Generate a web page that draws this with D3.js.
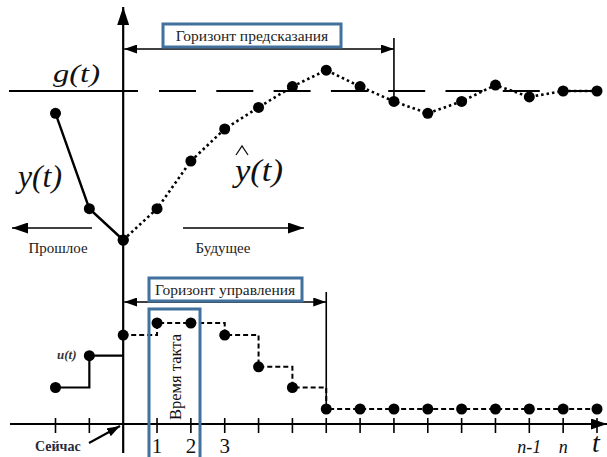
<!DOCTYPE html>
<html>
<head>
<meta charset="utf-8">
<script src="https://cdn.jsdelivr.net/npm/d3@7"></script>
<style>
  body { margin: 0; background: #fff; }
</style>
</head>
<body>
<div id="chart"></div>
<script>
// данные
const ticks = d3.range(-2, 15);                 // такты k = -2 .. 14
const pastY = [0.85, 0.21, 0];                   // y(t), k = -2, -1, 0
const predY = [0, 0.21, 0.53, 0.745, 0.89, 1.03, 1.14, 1.03, 0.93, 0.85, 0.93, 1.04, 0.96, 1.0, 1.0]; // k = 0..14
const setpoint = 1.0;                            // g(t)
const pastU = [0.25, 0.62, 0.62];                // u(t), k = -2, -1, 0
const futureU = [0.86, 1, 1, 0.86, 0.49, 0.25, 0, 0, 0, 0, 0, 0, 0, 0, 0]; // k = 0..14
const tickLabels = [
  { k: 1, t: '1' }, { k: 2, t: '2' }, { k: 3, t: '3' },
  { k: 12, t: 'n-1', it: true }, { k: 13, t: 'n', it: true }
];
const predHorizon = 8;
const ctrlHorizon = 6;

const W = 607, H = 457;
const blue = '#41719c';
const serif = '"Liberation Serif", "DejaVu Serif", "Times New Roman", serif';

const svg = d3.select('#chart').append('svg')
  .attr('width', W).attr('height', H)
  .attr('font-family', serif);

// стрелки
const defs = svg.append('defs');
function marker(id, len, wid) {
  defs.append('marker')
    .attr('id', id)
    .attr('viewBox', `0 0 ${len} ${wid}`)
    .attr('refX', len).attr('refY', wid / 2)
    .attr('markerUnits', 'userSpaceOnUse')
    .attr('markerWidth', len).attr('markerHeight', wid)
    .attr('orient', 'auto-start-reverse')
    .append('path')
    .attr('d', `M0,0 L${len},${wid / 2} L0,${wid} Z`)
    .attr('fill', '#000');
}
marker('big', 18, 12);
marker('mid', 16, 11);
marker('small', 13, 9);

// шкалы
const x = d3.scaleLinear().domain([-2, 14]).range([55.5, 597]);
const yTop = d3.scaleLinear().domain([0, 1]).range([240, 91]);
const yU = d3.scaleLinear().domain([0, 1]).range([409, 323]);

const x0 = x(0);
const axisY = 424;

// ось времени
svg.append('line')
  .attr('x1', 10).attr('x2', 607).attr('y1', axisY).attr('y2', axisY)
  .attr('stroke', '#000').attr('stroke-width', 2.2)
  .attr('marker-end', 'url(#mid)');

svg.selectAll('.tick').data(ticks.filter(k => k !== 0))
  .enter().append('line')
  .attr('class', 'tick')
  .attr('x1', d => x(d)).attr('x2', d => x(d))
  .attr('y1', 418).attr('y2', 433)
  .attr('stroke', '#000').attr('stroke-width', 1.6);

// вертикальная ось (сейчас)
svg.append('line')
  .attr('x1', x0).attr('x2', x0).attr('y1', 453).attr('y2', 7)
  .attr('stroke', '#000').attr('stroke-width', 2.2)
  .attr('marker-end', 'url(#big)');

// уставка g(t)
svg.append('line')
  .attr('x1', 9).attr('x2', 138).attr('y1', yTop(setpoint)).attr('y2', yTop(setpoint))
  .attr('stroke', '#000').attr('stroke-width', 2);
svg.append('line')
  .attr('x1', 159).attr('x2', 598).attr('y1', yTop(setpoint)).attr('y2', yTop(setpoint))
  .attr('stroke', '#000').attr('stroke-width', 2)
  .attr('stroke-dasharray', '37,20.3');

// горизонт предсказания
svg.append('line')
  .attr('x1', x(predHorizon)).attr('x2', x(predHorizon)).attr('y1', 38).attr('y2', 100)
  .attr('stroke', '#000').attr('stroke-width', 1.6);
svg.append('line')
  .attr('x1', x0 + 1).attr('x2', x(predHorizon)).attr('y1', 49).attr('y2', 49)
  .attr('stroke', '#000').attr('stroke-width', 1.6)
  .attr('marker-start', 'url(#small)').attr('marker-end', 'url(#small)');

// прошлое y(t)
const pastPts = pastY.map((v, i) => [x(-2 + i), yTop(v)]);
svg.append('path')
  .attr('d', d3.line()(pastPts))
  .attr('fill', 'none').attr('stroke', '#000').attr('stroke-width', 2.4);

// прогноз ŷ(t)
const predPts = predY.map((v, i) => [x(i), yTop(v)]);
svg.append('path')
  .attr('d', d3.line()(predPts))
  .attr('fill', 'none').attr('stroke', '#000').attr('stroke-width', 2.6)
  .attr('stroke-dasharray', '2.5,3');

svg.selectAll('.ydot').data(pastPts.concat(predPts))
  .enter().append('circle')
  .attr('class', 'ydot')
  .attr('cx', d => d[0]).attr('cy', d => d[1]).attr('r', 5.5)
  .attr('fill', '#000');

// стрелки прошлое / будущее
svg.append('line')
  .attr('x1', 92).attr('x2', 12).attr('y1', 228).attr('y2', 228)
  .attr('stroke', '#000').attr('stroke-width', 1.6)
  .attr('marker-end', 'url(#mid)');
svg.append('line')
  .attr('x1', 183).attr('x2', 304).attr('y1', 228).attr('y2', 228)
  .attr('stroke', '#000').attr('stroke-width', 1.6)
  .attr('marker-end', 'url(#mid)');
svg.append('text').attr('x', 58).attr('y', 253).attr('text-anchor', 'middle')
  .attr('font-size', 15).attr('fill', '#222').text('Прошлое');
svg.append('text').attr('x', 223).attr('y', 253).attr('text-anchor', 'middle')
  .attr('font-size', 15).attr('fill', '#222').text('Будущее');

// подписи y(t), ŷ(t), g(t)
svg.append('text').attr('x', 53).attr('y', 82)
  .attr('font-size', 26).attr('font-style', 'italic')
  .attr('textLength', 47).attr('lengthAdjust', 'spacingAndGlyphs')
  .attr('fill', '#111').text('g(t)');
svg.append('text').attr('x', 18).attr('y', 187)
  .attr('font-size', 31).attr('font-style', 'italic')
  .attr('textLength', 44).attr('lengthAdjust', 'spacingAndGlyphs')
  .attr('fill', '#111').text('y(t)');
svg.append('text').attr('x', 235).attr('y', 181)
  .attr('font-size', 31).attr('font-style', 'italic')
  .attr('textLength', 48).attr('lengthAdjust', 'spacingAndGlyphs')
  .attr('fill', '#111').text('y(t)');
// шапка над y
svg.append('path')
  .attr('d', 'M236,155 L242,146 L248,155')
  .attr('fill', 'none').attr('stroke', '#111').attr('stroke-width', 1.3);

// горизонт управления
svg.append('line')
  .attr('x1', x(ctrlHorizon)).attr('x2', x(ctrlHorizon)).attr('y1', 292).attr('y2', yU(0))
  .attr('stroke', '#000').attr('stroke-width', 1.6);
svg.append('line')
  .attr('x1', x0 + 1).attr('x2', x(ctrlHorizon)).attr('y1', 302).attr('y2', 302)
  .attr('stroke', '#000').attr('stroke-width', 1.6)
  .attr('marker-start', 'url(#small)').attr('marker-end', 'url(#small)');

// управление u(t)
const stepLine = d3.line().curve(d3.curveStepAfter);
const pastUPts = pastU.map((v, i) => [x(-2 + i), yU(v)]);
svg.append('path')
  .attr('d', stepLine(pastUPts))
  .attr('fill', 'none').attr('stroke', '#000').attr('stroke-width', 2.2);
const futUPts = futureU.map((v, i) => [x(i), yU(v)]);
svg.append('path')
  .attr('d', stepLine(futUPts))
  .attr('fill', 'none').attr('stroke', '#000').attr('stroke-width', 2)
  .attr('stroke-dasharray', '5,3');
svg.selectAll('.udot').data(pastUPts.slice(0, 2).concat(futUPts))
  .enter().append('circle')
  .attr('class', 'udot')
  .attr('cx', d => d[0]).attr('cy', d => d[1]).attr('r', 5.5)
  .attr('fill', '#000');
svg.append('text').attr('x', 57).attr('y', 359)
  .attr('font-size', 13).attr('font-style', 'italic').attr('font-weight', 'bold')
  .attr('fill', '#333').text('u(t)');

// рамки
svg.append('rect')
  .attr('x', 163).attr('y', 24).attr('width', 178).attr('height', 23)
  .attr('fill', '#fff').attr('stroke', blue).attr('stroke-width', 3);
svg.append('text').attr('x', 252).attr('y', 41).attr('text-anchor', 'middle')
  .attr('font-size', 15.5).attr('fill', '#222').text('Горизонт предсказания');

svg.append('rect')
  .attr('x', 149).attr('y', 278).attr('width', 153).attr('height', 23)
  .attr('fill', '#fff').attr('stroke', blue).attr('stroke-width', 3);
svg.append('text').attr('x', 225).attr('y', 295).attr('text-anchor', 'middle')
  .attr('font-size', 15.5).attr('fill', '#222').text('Горизонт управления');

svg.append('rect')
  .attr('x', 149).attr('y', 309).attr('width', 51).attr('height', 160)
  .attr('fill', 'none').attr('stroke', blue).attr('stroke-width', 3);
svg.append('text')
  .attr('transform', 'translate(181,377) rotate(-90)')
  .attr('text-anchor', 'middle')
  .attr('font-size', 16.5).attr('fill', '#111').text('Время такта');

// подписи оси времени
svg.selectAll('.tlab').data(tickLabels)
  .enter().append('text')
  .attr('class', 'tlab')
  .attr('x', d => x(d.k)).attr('y', 453)
  .attr('text-anchor', 'middle')
  .attr('font-size', d => d.it ? 18 : 21)
  .attr('font-style', d => d.it ? 'italic' : 'normal')
  .attr('fill', '#111')
  .text(d => d.t);
svg.append('text').attr('x', 596).attr('y', 452).attr('text-anchor', 'middle')
  .attr('font-size', 28).attr('font-style', 'italic').attr('fill', '#111').text('t');

// Сейчас
svg.append('text').attr('x', 35).attr('y', 451)
  .attr('font-size', 14).attr('font-weight', 'bold').attr('fill', '#2a2a3a').text('Сейчас');
svg.append('line')
  .attr('x1', 89).attr('x2', 120).attr('y1', 443).attr('y2', 426)
  .attr('stroke', '#000').attr('stroke-width', 2)
  .attr('marker-end', 'url(#small)');
</script>
</body>
</html>
